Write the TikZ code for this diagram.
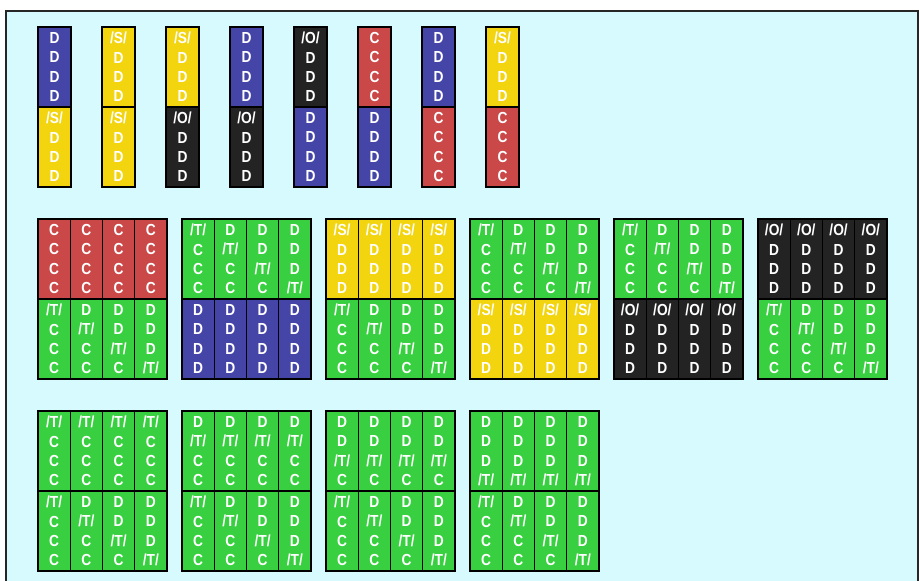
\documentclass[tikz,border=0pt]{standalone}
\usepackage{fontspec}
\usetikzlibrary{positioning}
\newfontfamily\cellfont{Liberation Sans}[FakeStretch=0.86]
\definecolor{PanelCyan}{HTML}{D7FAFF}
\definecolor{colD}{HTML}{4545A8}
\definecolor{colS}{HTML}{F2D40F}
\definecolor{colO}{HTML}{232323}
\definecolor{colC}{HTML}{CB4848}
\definecolor{CellGreen}{HTML}{38D040}
\colorlet{colTa}{CellGreen}
\colorlet{colTb}{CellGreen}
\colorlet{colTc}{CellGreen}
\colorlet{colTd}{CellGreen}
% the four-symbol stacks
\newcommand{\txtD}{D\\D\\D\\D}
\newcommand{\txtS}{/S/\\D\\D\\D}
\newcommand{\txtO}{/O/\\D\\D\\D}
\newcommand{\txtC}{C\\C\\C\\C}
\newcommand{\txtTa}{/T/\\C\\C\\C}
\newcommand{\txtTb}{D\\/T/\\C\\C}
\newcommand{\txtTc}{D\\D\\/T/\\C}
\newcommand{\txtTd}{D\\D\\D\\/T/}
\tikzset{
  panel/.style={draw=black!85, line width=1.5pt, fill=PanelCyan},
  cellbox/.style={
    rectangle, draw=black, line width=1.3pt, inner sep=0pt, outer sep=0pt,
    minimum height=80pt, align=center, text=white,
    font={\cellfont\fontsize{16}{19.4}\selectfont\bfseries}
  },
  singlecell/.style={cellbox, minimum width=33pt},
  groupcell/.style={cellbox, minimum width=32.25pt},
}

\begin{document}
\begin{tikzpicture}[x=1pt, y=-1pt]
  \clip (0,0) rectangle (919,581);
  \draw[panel] (6,11) rectangle (918,600);
  % top row: single columns, two halves each
  \foreach [count=\i from 0] \ka/\kb in {D/S, S/S, S/O, D/O, O/D, C/D, D/C, S/C}{
    \node[singlecell, fill=col\ka, anchor=north west] (top\i a) at ({38+64*\i},27) {\csname txt\ka\endcsname};
    \node[singlecell, fill=col\kb, anchor=north west] (top\i b) at (top\i a.south west) {\csname txt\kb\endcsname};
  }
  % middle row: groups of four columns
  \foreach \g/\la/\lb in {
      0/{C,C,C,C}/{Ta,Tb,Tc,Td},
      1/{Ta,Tb,Tc,Td}/{D,D,D,D},
      2/{S,S,S,S}/{Ta,Tb,Tc,Td},
      3/{Ta,Tb,Tc,Td}/{S,S,S,S},
      4/{Ta,Tb,Tc,Td}/{O,O,O,O},
      5/{O,O,O,O}/{Ta,Tb,Tc,Td}}{
    \foreach [count=\j from 0] \k in \la{
      \node[groupcell, fill=col\k, anchor=north west] (mid\g a\j) at ({38+144*\g+32.25*\j},219) {\csname txt\k\endcsname};
    }
    \foreach [count=\j from 0] \k in \lb{
      \node[groupcell, fill=col\k, anchor=north west] (mid\g b\j) at (mid\g a\j.south west) {\csname txt\k\endcsname};
    }
  }
  % bottom row: all green groups
  \foreach \g/\ka in {0/Ta, 1/Tb, 2/Tc, 3/Td}{
    \foreach [count=\j from 0] \k in {Ta,Tb,Tc,Td}{
      \node[groupcell, fill=CellGreen, anchor=north west] (bot\g a\j) at ({38+144*\g+32.25*\j},411) {\csname txt\ka\endcsname};
      \node[groupcell, fill=CellGreen, anchor=north west] (bot\g b\j) at (bot\g a\j.south west) {\csname txt\k\endcsname};
    }
  }
\end{tikzpicture}
\end{document}
